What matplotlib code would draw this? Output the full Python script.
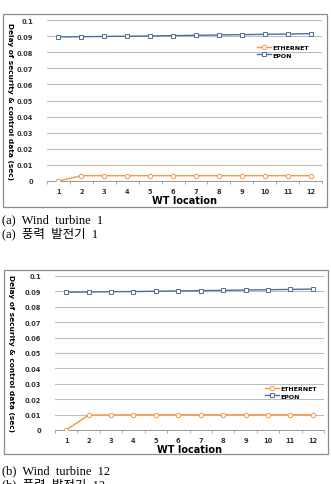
import matplotlib.pyplot as plt
import numpy as np
from matplotlib.patches import Rectangle

# data
wt_location = [1, 2, 3, 4, 5, 6, 7, 8, 9, 10, 11, 12]
epon_a = [0.0895, 0.0896, 0.0898, 0.0899, 0.0901, 0.0903, 0.0905, 0.0907, 0.0909, 0.0911, 0.0913, 0.0915]
ethernet_a = [0.0, 0.0033, 0.0033, 0.0033, 0.0033, 0.0033, 0.0033, 0.0033, 0.0033, 0.0033, 0.0033, 0.0033]
epon_b = [0.0895, 0.0896, 0.0898, 0.0899, 0.0901, 0.0903, 0.0905, 0.0907, 0.0909, 0.0911, 0.0913, 0.0915]
ethernet_b = [0.0, 0.0097, 0.0098, 0.0099, 0.0099, 0.0099, 0.0099, 0.0099, 0.0099, 0.0099, 0.0099, 0.0099]
y_ticks = [0, 0.01, 0.02, 0.03, 0.04, 0.05, 0.06, 0.07, 0.08, 0.09, 0.1]
y_ticklabels = ["0", "0.01", "0.02", "0.03", "0.04", "0.05", "0.06", "0.07", "0.08", "0.09", "0.1"]

W, H = 331, 485
fig = plt.figure(figsize=(W / 100, H / 100), dpi=100)
fig.patch.set_facecolor("white")

orange = "#F79646"
blue = "#4A6E9E"
grid_c = "#BDBDBD"


def fx(px):
    return px / W


def fy(py):
    return 1 - py / H


def draw_panel(frame, box, epon, eth, legend_pos, ylab_x, caption_en, caption_ko, cap_y):
    # outer frame like the excel chart area
    x0, y0, x1, y1 = frame
    fig.patches.append(Rectangle((fx(x0), fy(y1)), fx(x1 - x0), (y1 - y0) / H,
                                 transform=fig.transFigure, fill=False,
                                 edgecolor="#8C8C8C", linewidth=0.9))
    l, t, r, b = box
    ax = fig.add_axes([fx(l), fy(b), fx(r - l), (b - t) / H])
    ax.plot(wt_location, eth, color=orange, lw=1.0, marker="o", ms=3.2,
            mfc="white", mec=orange, mew=0.7, label="ETHERNET", zorder=3)
    ax.plot(wt_location, epon, color=blue, lw=1.0, marker="s", ms=3.2,
            mfc="white", mec=blue, mew=0.7, label="EPON", zorder=3)
    ax.set_xlim(0.5, 12.5)
    ax.set_ylim(0, 0.1)
    ax.set_yticks(y_ticks)
    ax.set_yticklabels(y_ticklabels, fontsize=4.8, fontweight="bold", color="#333333")
    ax.set_xticks(wt_location)
    ax.set_xticklabels([str(v) for v in wt_location], fontsize=4.8,
                       fontweight="bold", color="#333333")
    ax.set_xticks(np.arange(0.5, 13, 1), minor=True)
    ax.tick_params(axis="x", which="major", length=0, pad=5)
    ax.tick_params(axis="x", which="minor", length=2, color="#888888", width=0.5)
    ax.tick_params(axis="y", length=0, pad=10)
    ax.yaxis.grid(True, color=grid_c, lw=0.8)
    ax.set_axisbelow(True)
    for s in ["top", "right", "left"]:
        ax.spines[s].set_visible(False)
    ax.spines["bottom"].set_color("#888888")
    ax.spines["bottom"].set_linewidth(0.6)
    ax.set_xlabel("WT location", fontsize=7, fontweight="bold", labelpad=1)
    fig.text(fx(ylab_x), fy((t + b) / 2), "Delay of security & control data (sec)",
             fontsize=5.3, fontweight="bold", rotation=270, ha="center", va="center")
    ax.legend(loc="center", bbox_to_anchor=legend_pos, bbox_transform=fig.transFigure,
              frameon=False, handlelength=2.2, handletextpad=0.3,
              labelspacing=0.4, prop={"weight": "bold", "size": 4.5})
    fig.text(fx(2), fy(cap_y), caption_en, family="Liberation Serif", fontsize=9,
             va="center", ha="left")
    fig.text(fx(2), fy(cap_y + 14), caption_ko,
             family=["Liberation Serif", "Noto Sans CJK KR"], fontsize=9,
             va="center", ha="left")
    return ax


draw_panel((3, 15, 327, 208), (47, 21, 322, 182), epon_a, ethernet_a,
           (fx(283), fy(52)), 10, "(a)  Wind  turbine  1", "(a)  풍력  발전기  1", 220)
draw_panel((4, 271, 328, 455), (55, 277, 324, 431), epon_b, ethernet_b,
           (fx(291), fy(393)), 11, "(b)  Wind  turbine  12", "(b)  풍력  발전기  12", 471)

fig.savefig("out.png", dpi=100)
